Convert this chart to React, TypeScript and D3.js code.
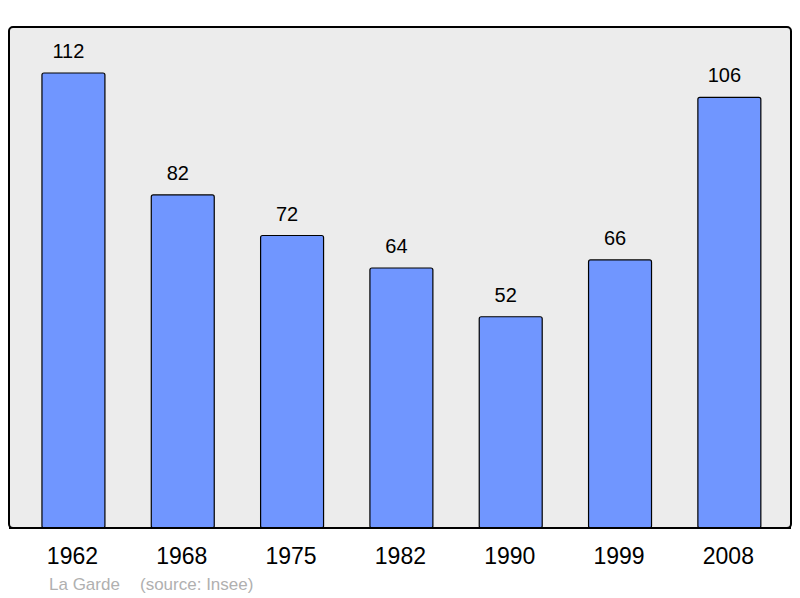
import React from "react";
import * as d3 from "d3";

const years = ["1962", "1968", "1975", "1982", "1990", "1999", "2008"];
const population = [112, 82, 72, 64, 52, 66, 106];
const place = "La Garde";
const source = "(source: Insee)";

const width = 800;
const height = 598;
const frame = { left: 9, top: 27, right: 791, bottom: 528 };

const App: React.FC = () => {
  const x = d3
    .scaleBand<string>()
    .domain(years)
    .range([10.8, 792])
    .paddingInner(0.424)
    .paddingOuter(0.285);

  const y = d3
    .scaleLinear()
    .domain([0, d3.max(population) || 1])
    .range([frame.bottom, 73]);

  const font = "'Liberation Sans', Arial, sans-serif";

  return (
    <svg
      width={width}
      height={height}
      style={{ position: "absolute", left: 0, top: 0, fontFamily: font }}
    >
      <rect
        x={frame.left}
        y={frame.top}
        width={frame.right - frame.left}
        height={frame.bottom - frame.top}
        rx={4}
        fill="#ececec"
        stroke="#000"
        strokeWidth={2}
      />
      {years.map((yr, i) => {
        const v = population[i];
        const bx = x(yr) ?? 0;
        return (
          <g key={yr}>
            <rect
              x={bx}
              y={y(v)}
              width={x.bandwidth()}
              height={frame.bottom - y(v)}
              rx={2}
              fill="#7096ff"
              stroke="#000"
              strokeWidth={1.2}
            />
            {/* value labels sit a bit left of the bar centre in the original */}
            <text
              x={bx + x.bandwidth() / 2 - 5}
              y={y(v) - 15}
              textAnchor="middle"
              fontSize={20}
              fill="#000"
            >
              {v}
            </text>
            <text
              x={bx + x.bandwidth() / 2 - 1}
              y={564}
              textAnchor="middle"
              fontSize={23}
              fill="#000"
            >
              {yr}
            </text>
          </g>
        );
      })}
      <line
        x1={frame.left}
        x2={frame.right}
        y1={frame.bottom}
        y2={frame.bottom}
        stroke="#000"
        strokeWidth={2}
      />
      <text x={49} y={590} fontSize={17} fill="#b0b0b0">
        {place}
      </text>
      <text x={140} y={590} fontSize={17} fill="#b0b0b0">
        {source}
      </text>
    </svg>
  );
};

export default App;
